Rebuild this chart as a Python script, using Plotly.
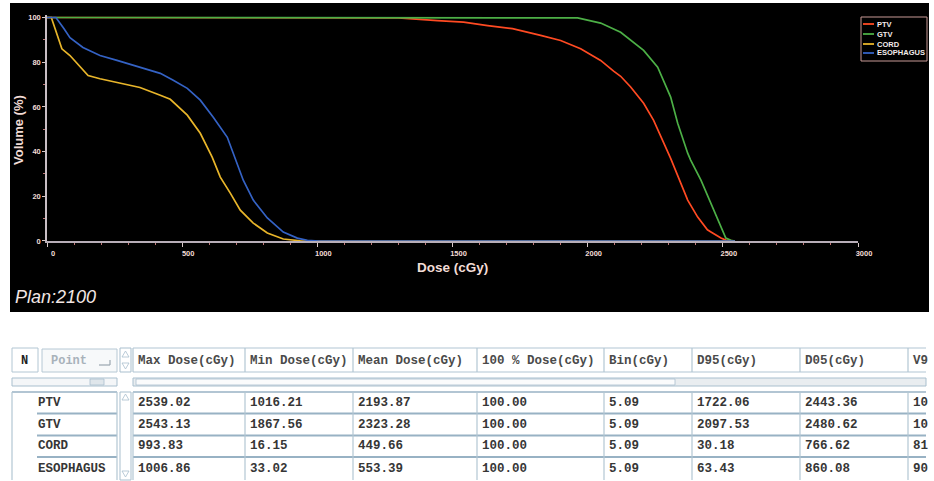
import plotly.graph_objects as go

W, H = 934, 481


def px(x):
    return x / W


def py(y):
    return 1 - y / H


# ---------------- DVH data (dose in cGy, volume in %) ----------------
ptv_dose = [0, 1016, 1300, 1444, 1541, 1630, 1722, 1826, 1900, 1974, 2048, 2096, 2122, 2159,
            2207, 2244, 2278, 2307, 2344, 2370, 2407, 2443, 2456, 2493, 2511, 2539, 2545]
ptv_vol = [100, 100, 99.8, 98.6, 97.9, 96.4, 95.0, 92.0, 89.7, 86.0, 80.8, 76.0, 73.7, 68.9,
           61.6, 54.0, 45.0, 37.0, 26.0, 18.3, 10.7, 5.0, 4.0, 1.3, 0.4, 0, 0]

gtv_dose = [0, 1867, 1963, 2048, 2122, 2207, 2259, 2307, 2333, 2370, 2381, 2419, 2467, 2493,
            2511, 2530, 2543, 2545]
gtv_vol = [100, 100, 99.8, 97.5, 93.4, 85.3, 77.8, 64.4, 52.7, 39.3, 36.2, 27.2, 13.8, 6.3,
           1.3, 0.3, 0, 0]

cord_dose = [0, 16, 30, 55, 85, 122, 152, 196, 259, 344, 419, 456, 519, 567, 611, 641, 678,
             715, 763, 815, 874, 937, 993, 2545]
cord_vol = [100, 100, 95, 86, 83, 77.8, 74, 72.6, 71, 68.7, 65.2, 63.4, 56.3, 48.2, 37.5, 28.6,
            21.4, 13.8, 8, 3.6, 0.9, 0.1, 0, 0]

eso_dose = [0, 33, 63, 85, 133, 196, 259, 344, 419, 467, 519, 567, 615, 667, 696, 726, 763,
            815, 874, 926, 963, 1006, 2545]
eso_vol = [100, 100, 95, 91, 86.6, 83, 80.8, 77.8, 75, 71.9, 68.3, 63, 55.4, 46.4, 37.1, 27.2,
           18.3, 10.3, 4, 1.3, 0.3, 0, 0]

structure_names = ["PTV", "GTV", "CORD", "ESOPHAGUS"]
structure_colors = ["#ff4a22", "#4caf46", "#e8b52a", "#3462c4"]

x_ticks = [0, 500, 1000, 1500, 2000, 2500, 3000]
y_ticks = [0, 20, 40, 60, 80, 100]

# ---------------- table data ----------------
table_headers = ["Max Dose(cGy)", "Min Dose(cGy)", "Mean Dose(cGy)", "100 % Dose(cGy)",
                 "Bin(cGy)", "D95(cGy)", "D05(cGy)", "V9"]
max_dose = ["2539.02", "2543.13", "993.83", "1006.86"]
min_dose = ["1016.21", "1867.56", "16.15", "33.02"]
mean_dose = ["2193.87", "2323.28", "449.66", "553.39"]
dose_100 = ["100.00", "100.00", "100.00", "100.00"]
bin_size = ["5.09", "5.09", "5.09", "5.09"]
d95 = ["1722.06", "2097.53", "30.18", "63.43"]
d05 = ["2443.36", "2480.62", "766.62", "860.08"]
v9_visible = ["10", "10", "81", "90"]
table_columns = [max_dose, min_dose, mean_dose, dose_100, bin_size, d95, d05, v9_visible]

# ---------------- figure ----------------
fig = go.Figure()

series = [(ptv_dose, ptv_vol), (gtv_dose, gtv_vol), (cord_dose, cord_vol), (eso_dose, eso_vol)]
for (d, v), name, col in zip(series, structure_names, structure_colors):
    fig.add_trace(go.Scatter(x=d, y=v, mode="lines", name=name,
                             line=dict(color=col, width=1.7), hoverinfo="skip",
                             showlegend=False))

tick_font = dict(family="Liberation Sans", size=7.5, color="#f2dcd6", weight="bold")
mono = "Liberation Mono"
shapes = []
annotations = []


def hline(x0, x1, y, color, width):
    shapes.append(dict(type="line", xref="paper", yref="paper", x0=px(x0), x1=px(x1),
                       y0=py(y), y1=py(y), line=dict(color=color, width=width)))


def vline(x, y0, y1, color, width):
    shapes.append(dict(type="line", xref="paper", yref="paper", x0=px(x), x1=px(x),
                       y0=py(y0), y1=py(y1), line=dict(color=color, width=width)))


def rect(x0, x1, y0, y1, fill, color, width, layer="above"):
    shapes.append(dict(type="rect", xref="paper", yref="paper", x0=px(x0), x1=px(x1),
                       y0=py(y1), y1=py(y0), fillcolor=fill,
                       line=dict(color=color, width=width), layer=layer))


def text(x, y, s, size, color, weight="bold", family=mono, anchor="left"):
    annotations.append(dict(x=px(x), y=py(y), xref="paper", yref="paper", text=s,
                            showarrow=False, xanchor=anchor, yanchor="middle",
                            font=dict(family=family, size=size, color=color, weight=weight)))


# black panel behind chart
rect(10, 929, 3, 312, "black", "black", 0, layer="below")

# ---------------- table geometry ----------------
grid_v = "#b2c6d3"
grid_h = "#98b2c4"
col_edges = [133, 245, 353, 477, 604, 692, 800, 908, 926]
row_edges = [392, 413.5, 435.5, 457, 480]
head_top, head_bot, head_mid = 348, 372, 360.5

hline(133, 926, head_top, grid_v, 1.2)
hline(133, 926, head_bot, grid_v, 1.2)
for xe in col_edges[:-1]:
    vline(xe, head_top, head_bot, grid_v, 1.2)
for xe, h in zip(col_edges, table_headers):
    text(xe + 3, head_mid, h.replace(" ", "\u00a0"), 12.5, "#4a4a4a")

hline(133, 926, row_edges[0], grid_h, 1.5)
for ye in row_edges[1:-1]:
    hline(133, 926, ye, grid_h, 2)
for xe in col_edges[:-1]:
    vline(xe, row_edges[0], 480, grid_v, 1.2)
for xe, col in zip(col_edges, table_columns):
    for r, val in enumerate(col):
        yc = (row_edges[r] + row_edges[r + 1]) / 2
        text(xe + 3, yc, val, 12.5, "#363636")

hline(12, 117, row_edges[0], grid_h, 1.5)
for ye in row_edges[1:-1]:
    hline(37, 117, ye, grid_h, 2)
vline(12, row_edges[0], 480, grid_v, 1.2)
vline(117, row_edges[0], 480, grid_v, 1.2)
for r, n in enumerate(structure_names):
    yc = (row_edges[r] + row_edges[r + 1]) / 2
    text(36, yc, n, 12.5, "#363636")

rect(12, 38, head_top, head_bot, "white", grid_v, 1)
text(19, head_mid, "N", 12, "#1e1e1e")
rect(42, 117, 349, 372, "#f7f9fa", "#b6c8d4", 1)
text(49, head_mid, "Point", 12, "#a8b2ba")
hline(99, 110, 365, "#9aa6b0", 1.2)
vline(110, 365, 360, "#9aa6b0", 1.2)

sb = "#a9bfce"
rect(12, 117, 378, 386, "#f4f6f8", sb, 1)
rect(90, 104, 379, 385, "#dfe6eb", sb, 0.8)
rect(133, 926, 378, 386, "#e9edf0", sb, 1)
rect(136, 675, 379, 385, "#fafbfc", sb, 0.8)

rect(120, 131, 348, 372, "white", sb, 1)
rect(120, 131, 392, 480, "white", sb, 1)
for (ya, yb) in [(351, 357), (394, 400)]:
    shapes.append(dict(type="path", xref="paper", yref="paper",
                       path=f"M {px(122)},{py(yb)} L {px(125.5)},{py(ya)} L {px(129)},{py(yb)} Z",
                       fillcolor="white", line=dict(color=sb, width=0.8)))
for (ya, yb) in [(363, 369), (471, 477)]:
    shapes.append(dict(type="path", xref="paper", yref="paper",
                       path=f"M {px(122)},{py(ya)} L {px(125.5)},{py(yb)} L {px(129)},{py(ya)} Z",
                       fillcolor="white", line=dict(color=sb, width=0.8)))

# ---------------- legend (manual, compact like the original) ----------------
rect(861, 927, 17, 61, "black", "#c89a96", 1)
legend_y = [24, 34, 44, 53]
for name, col, yy in zip(structure_names, structure_colors, legend_y):
    hline(863, 874, yy, col, 1.8)
    text(875, yy, name, 7.5, "#f4ecec", family="Liberation Sans")

annotations += [
    dict(x=px(18), y=py(130), xref="paper", yref="paper", text="Volume (%)", textangle=-90,
         showarrow=False, xanchor="center", yanchor="middle",
         font=dict(family="Liberation Sans", size=13, color="#f2dcd6", weight="bold")),
    dict(x=px(452), y=py(267), xref="paper", yref="paper", text="Dose (cGy)",
         showarrow=False, xanchor="center", yanchor="middle",
         font=dict(family="Liberation Sans", size=13.5, color="#f2dcd6", weight="bold")),
    dict(x=px(13), y=py(297), xref="paper", yref="paper", text="Plan:2100",
         showarrow=False, xanchor="left", yanchor="middle",
         font=dict(family="Liberation Sans", size=18, color="#f2e6e4", style="italic")),
]

fig.update_layout(
    width=W, height=H, autosize=False,
    margin=dict(l=0, r=0, t=0, b=0, pad=0),
    paper_bgcolor="white", plot_bgcolor="black",
    showlegend=False,
    shapes=shapes, annotations=annotations,
    xaxis=dict(domain=[px(47), px(858)], range=[0, 3000], automargin=False,
               showgrid=False, zeroline=False,
               showline=True, linecolor="#b8aeb8", linewidth=2, ticks="outside", ticklen=4,
               tickwidth=1, tickcolor="#d8c8c8", tickmode="array", tickvals=x_ticks,
               ticktext=[str(t) for t in x_ticks], tickfont=tick_font, ticklabelshift=6,
               minor=dict(tickmode="linear", tick0=0, dtick=100, ticks="outside", ticklen=2,
                          tickwidth=1, tickcolor="#c07878"),
               layer="below traces", fixedrange=True),
    yaxis=dict(domain=[py(241), py(241 - 101 * 2.235)], range=[0, 101], automargin=False,
               showgrid=False, zeroline=False, showline=True, linecolor="#c8bec4",
               linewidth=1.5, ticks="outside", ticklen=3, tickwidth=1, tickcolor="#d8c8c8",
               tickmode="array", tickvals=y_ticks, ticktext=[str(t) for t in y_ticks],
               tickfont=tick_font,
               minor=dict(tickmode="linear", tick0=0, dtick=10, ticks="outside", ticklen=2,
                          tickwidth=1, tickcolor="#c07878"),
               layer="below traces", fixedrange=True),
)

page_fix = ("document.documentElement.style.margin='0';"
            "document.documentElement.style.overflow='hidden';"
            "document.body.style.margin='0';"
            "document.body.style.overflow='hidden';")
fig.write_html("out.html", config={"displayModeBar": False}, post_script=page_fix)
